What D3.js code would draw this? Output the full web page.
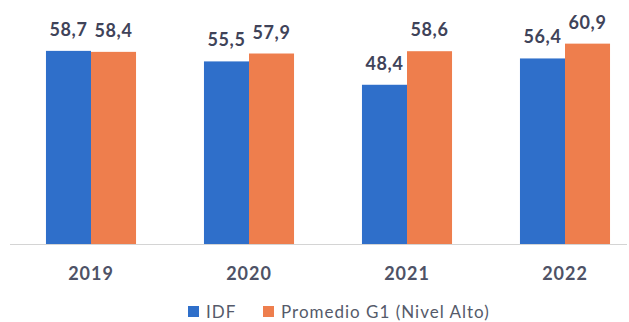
<!DOCTYPE html>
<html>
<head>
<meta charset="utf-8">
<script src="https://cdn.jsdelivr.net/npm/d3@7"></script>
<style>
  html, body { margin: 0; padding: 0; background: #fff; }
  svg { display: block; font-family: Lato, "Open Sans", sans-serif; }
</style>
</head>
<body>
<svg id="chart" width="629" height="322"></svg>
<script>
// Years shown on the x axis
const years = ["2019", "2020", "2021", "2022"];
// Series names (legend order)
const seriesNames = ["IDF", "Promedio G1 (Nivel Alto)"];
// Values per series, one per year
const idfValues = [58.7, 55.5, 48.4, 56.4];
const promedioValues = [58.4, 57.9, 58.6, 60.9];
const seriesColors = ["#2f6fca", "#ee7e4d"];

const svg = d3.select("#chart");
const baseY = 244;

const x = d3.scaleBand().domain(years).range([12, 644])
  .paddingInner(0.43).paddingOuter(0.215);
const xInner = d3.scaleBand().domain(seriesNames).range([0, x.bandwidth()]);
const y = d3.scaleLinear().domain([0, 70]).range([baseY, baseY - 230.3]);

const rows = years.map((yr, i) => ({
  year: yr,
  values: [
    { name: seriesNames[0], value: idfValues[i], color: seriesColors[0] },
    { name: seriesNames[1], value: promedioValues[i], color: seriesColors[1] }
  ]
}));

const fmt = v => d3.format(".1f")(v).replace(".", ",");

const groups = svg.append("g").selectAll("g").data(rows).join("g")
  .attr("transform", d => `translate(${x(d.year)},0)`);

groups.selectAll("rect").data(d => d.values).join("rect")
  .attr("x", d => xInner(d.name))
  .attr("width", xInner.bandwidth())
  .attr("y", d => y(d.value))
  .attr("height", d => y(0) - y(d.value))
  .attr("fill", d => d.color);

groups.selectAll("text.val").data(d => d.values).join("text")
  .attr("class", "val")
  .attr("x", d => xInner(d.name) + xInner.bandwidth() / 2)
  .attr("y", d => y(d.value) - 15)
  .attr("text-anchor", "middle")
  .attr("font-size", 18)
  .attr("font-weight", 700)
  .attr("letter-spacing", 0.6)
  .attr("fill", "#3f4359")
  .text(d => fmt(d.value));

// Baseline
svg.append("line")
  .attr("x1", 10).attr("x2", 627)
  .attr("y1", baseY + 0.5).attr("y2", baseY + 0.5)
  .attr("stroke", "#d4d4d4").attr("stroke-width", 1.2);

// Year labels
const xAxis = d3.axisBottom(x).tickSize(0).tickPadding(0);
const axisG = svg.append("g").attr("transform", `translate(0,${baseY})`).call(xAxis);
axisG.select(".domain").remove();
axisG.selectAll("text")
  .attr("y", 36)
  .attr("dy", null)
  .attr("font-family", "Lato, sans-serif")
  .attr("font-size", 18)
  .attr("font-weight", 700)
  .attr("letter-spacing", 1)
  .attr("fill", "#4e5266");

// Legend
const legendItems = [
  { name: seriesNames[0], color: seriesColors[0], x: 188 },
  { name: seriesNames[1], color: seriesColors[1], x: 263 }
];
const legend = svg.append("g");
legend.selectAll("rect").data(legendItems).join("rect")
  .attr("x", d => d.x).attr("y", 306)
  .attr("width", 11).attr("height", 11)
  .attr("fill", d => d.color);
legend.selectAll("text").data(legendItems).join("text")
  .attr("x", d => d.x + 18).attr("y", 318)
  .attr("font-size", 17)
  .attr("letter-spacing", 1)
  .attr("fill", "#555a6a")
  .text(d => d.name);
</script>
</body>
</html>
